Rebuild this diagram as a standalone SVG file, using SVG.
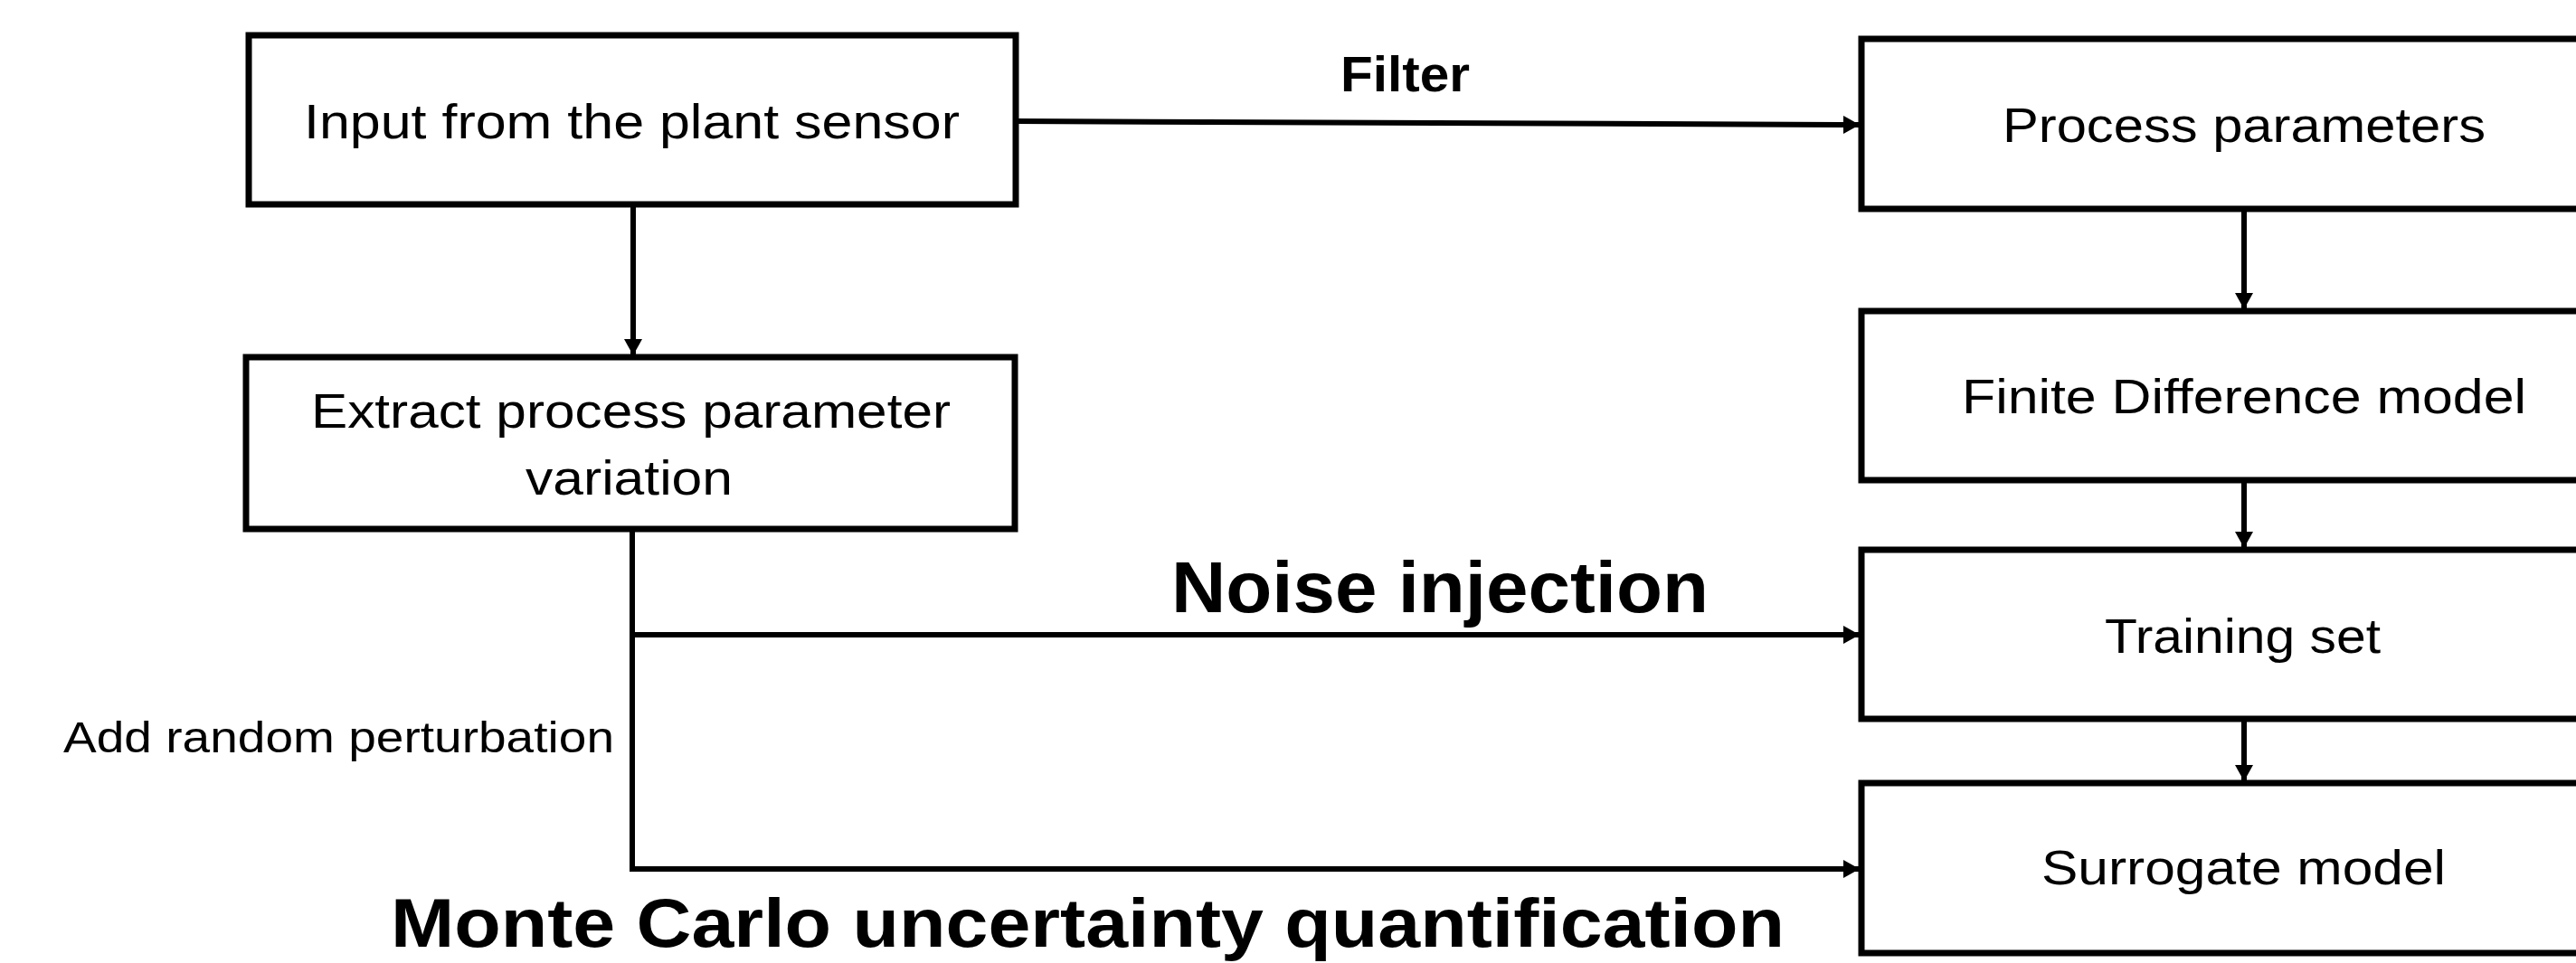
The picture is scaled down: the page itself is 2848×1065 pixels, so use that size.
<svg xmlns="http://www.w3.org/2000/svg" width="2848" height="1065" viewBox="0 0 2848 1065">
<style>
.box{fill:#fff;stroke:#000;stroke-width:7}
.lbl{font-family:"Liberation Sans",Arial,sans-serif;font-size:54px;fill:#000}
.side{font-family:"Liberation Sans",Arial,sans-serif;font-size:49px;fill:#000}
.bold{font-family:"Liberation Sans",Arial,sans-serif;font-weight:bold;fill:#000}
.con{fill:none;stroke:#000;stroke-width:6}
</style>
<defs>
<marker id="ah" viewBox="0 0 18 20" refX="17" refY="10" markerWidth="18" markerHeight="20" markerUnits="userSpaceOnUse" orient="auto">
<path d="M0,0 L18,10 L0,20 Z" fill="#000"/>
</marker>
</defs>
<rect width="2848" height="1065" fill="#fff"/>
<g id="connectors">
<line class="con" x1="1123" y1="134" x2="2055" y2="138" marker-end="url(#ah)"/>
<line class="con" x1="700" y1="226" x2="700" y2="392" marker-end="url(#ah)"/>
<line class="con" x1="2481" y1="231" x2="2481" y2="341" marker-end="url(#ah)"/>
<line class="con" x1="2481" y1="531" x2="2481" y2="605" marker-end="url(#ah)"/>
<line class="con" x1="2481" y1="795" x2="2481" y2="863" marker-end="url(#ah)"/>
<polyline class="con" points="699,585 699,961 2055,961" marker-end="url(#ah)"/>
<line class="con" x1="699" y1="702" x2="2055" y2="702" marker-end="url(#ah)"/>
</g>
<g id="n-input">
<rect class="box" x="275" y="39" width="848" height="187"/>
<text class="lbl" x="336" y="153" textLength="725" lengthAdjust="spacingAndGlyphs">Input from the plant sensor</text>
</g>
<g id="n-extract">
<rect class="box" x="272" y="395" width="850" height="190"/>
<text class="lbl" x="344" y="473" textLength="707" lengthAdjust="spacingAndGlyphs">Extract process parameter</text>
<text class="lbl" x="581" y="547" textLength="229" lengthAdjust="spacingAndGlyphs">variation</text>
</g>
<g id="n-process">
<rect class="box" x="2058" y="43" width="846" height="188"/>
<text class="lbl" x="2214" y="157" textLength="534" lengthAdjust="spacingAndGlyphs">Process parameters</text>
</g>
<g id="n-fd">
<rect class="box" x="2058" y="344" width="846" height="187"/>
<text class="lbl" x="2169" y="457" textLength="624" lengthAdjust="spacingAndGlyphs">Finite Difference model</text>
</g>
<g id="n-training">
<rect class="box" x="2058" y="608" width="846" height="187"/>
<text class="lbl" x="2327" y="722" textLength="305" lengthAdjust="spacingAndGlyphs">Training set</text>
</g>
<g id="n-surrogate">
<rect class="box" x="2058" y="866" width="846" height="188"/>
<text class="lbl" x="2257" y="978" textLength="447" lengthAdjust="spacingAndGlyphs">Surrogate model</text>
</g>
<g id="labels">
<text class="bold" x="1482" y="101" font-size="56" textLength="143" lengthAdjust="spacingAndGlyphs">Filter</text>
<text class="bold" x="1295" y="677" font-size="80" textLength="594" lengthAdjust="spacingAndGlyphs">Noise injection</text>
<text class="side" x="70" y="832" textLength="609" lengthAdjust="spacingAndGlyphs">Add random perturbation</text>
<text class="bold" x="432" y="1047" font-size="76" textLength="1541" lengthAdjust="spacingAndGlyphs">Monte Carlo uncertainty quantification</text>
</g>
</svg>
